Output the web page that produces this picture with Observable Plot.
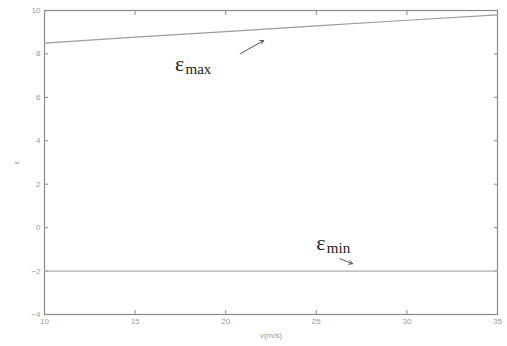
<!DOCTYPE html>
<html><head><meta charset="utf-8">
<script src="https://cdn.jsdelivr.net/npm/d3@7"></script>
<script src="https://cdn.jsdelivr.net/npm/@observablehq/plot@0.6"></script>
<style>body{margin:0;background:#fff;} svg{display:block;}</style>
</head><body><div id="chart"></div>
<script>
const speed = [10, 15, 20, 25, 30, 35];
const epsMax = [8.5, 8.77, 9.03, 9.29, 9.55, 9.8];
const epsMin = [-2, -2, -2, -2, -2, -2];
const xTicks = [10, 15, 20, 25, 30, 35];
const yTicks = [-4, -2, 0, 2, 4, 6, 8, 10];
const labels = [
  {name: "max", x: 17.2, y: 7.55, x1: 20.8, y1: 8.0, x2: 22.1, y2: 8.62},
  {name: "min", x: 25.0, y: -0.7, x1: 26.3, y1: -1.43, x2: 27.0, y2: -1.66}
];

const maxData = speed.map((v, i) => ({v, e: epsMax[i]}));
const minData = speed.map((v, i) => ({v, e: epsMin[i]}));

const gray = "#8a8a8a";
const chart = Plot.plot({
  width: 507, height: 346,
  marginLeft: 44, marginRight: 10, marginTop: 10, marginBottom: 32,
  style: {background: "#fff", fontFamily: "Liberation Sans, Arial, sans-serif"},
  x: {domain: [10, 35], ticks: xTicks},
  y: {domain: [-4, 10], ticks: yTicks},
  marks: [
    Plot.frame({stroke: gray, strokeWidth: 1.2}),
    Plot.axisX({ticks: xTicks, tickSize: -4, tickPadding: 8, fontSize: 8, color: "#9a9a9a", stroke: gray,
      label: "v(m/s)", labelAnchor: "center", labelArrow: "none", labelOffset: 23}),
    Plot.axisX({anchor: "top", ticks: xTicks, tickSize: -4, tickFormat: () => "", label: null, stroke: gray}),
    Plot.axisY({ticks: yTicks, tickSize: -4, tickPadding: 8, fontSize: 8, color: "#9a9a9a", stroke: gray,
      label: "ε", labelAnchor: "center", labelArrow: "none", labelOffset: 31}),
    Plot.axisY({anchor: "right", ticks: yTicks, tickSize: -4, tickFormat: () => "", label: null, stroke: gray}),
    Plot.line(maxData, {x: "v", y: "e", stroke: "#9c9c9c", strokeWidth: 1.2}),
    Plot.line(minData, {x: "v", y: "e", stroke: "#b0b0b0", strokeWidth: 1.2}),
    Plot.arrow(labels, {x1: "x1", y1: "y1", x2: "x2", y2: "y2", stroke: "#555", strokeWidth: 1, headLength: 6}),
    Plot.text(labels, {x: "x", y: "y", text: () => "ε", fontSize: 22, textAnchor: "start", fill: "#222",
      fontFamily: "Liberation Serif, Times New Roman, serif"}),
    Plot.text(labels, {x: "x", y: "y", text: "name", fontSize: 15, textAnchor: "start", dx: 10.5, dy: 5, fill: "#222",
      fontFamily: "Liberation Serif, Times New Roman, serif"})
  ]
});
document.getElementById("chart").append(chart);
</script>
</body></html>
